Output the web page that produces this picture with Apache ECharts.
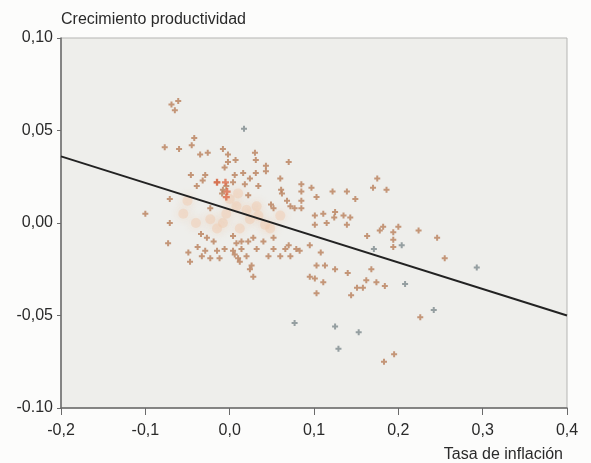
<!DOCTYPE html>
<html>
<head>
<meta charset="utf-8">
<script src="https://cdn.jsdelivr.net/npm/echarts@6/dist/echarts.min.js"></script>
<style>
  html, body { margin: 0; padding: 0; background: #fcfcfb; }
  #chart { width: 591px; height: 463px; }
</style>
</head>
<body>
<div id="chart"></div>
<script>
// x = tasa de inflación, y = crecimiento productividad
var orangePoints = [
  [-0.069, 0.064], [-0.061, 0.066], [-0.065, 0.061], [-0.042, 0.046], [-0.077, 0.041],
  [-0.060, 0.040], [-0.045, 0.042], [-0.035, 0.037], [-0.026, 0.038], [-0.008, 0.040],
  [-0.002, 0.037], [-0.002, 0.033], [0.007, 0.034], [-0.006, 0.030], [0.006, 0.026],
  [-0.046, 0.026], [-0.029, 0.026], [-0.032, 0.023], [-0.039, 0.020], [-0.015, 0.022],
  [-0.004, 0.020], [-0.100, 0.005], [-0.071, 0.013], [-0.071, 0.000],
  [-0.073, -0.011], [-0.049, -0.016], [-0.047, -0.021], [-0.034, -0.006], [-0.027, -0.008],
  [-0.038, -0.013], [-0.029, -0.015], [-0.033, -0.018], [-0.023, -0.019], [-0.015, -0.015],
  [-0.012, -0.019], [-0.006, -0.014], [0.004, -0.015], [0.006, -0.017], [0.010, -0.019],
  [0.008, -0.011], [-0.019, -0.010], [0.030, 0.038], [0.031, 0.034], [0.043, 0.031],
  [0.043, 0.028], [0.031, 0.027], [0.070, 0.033], [0.016, 0.027], [0.024, 0.024],
  [0.018, 0.021], [0.034, 0.020], [0.060, 0.024], [0.061, 0.018], [0.062, 0.016],
  [0.085, 0.021], [0.085, 0.017], [0.097, 0.019], [0.103, 0.014], [0.122, 0.017],
  [0.139, 0.017], [0.068, 0.012], [0.072, 0.009], [0.077, 0.008], [0.085, 0.012],
  [0.085, 0.008], [0.049, 0.010], [0.052, 0.008], [0.101, 0.004], [0.111, 0.005],
  [0.125, 0.006], [0.124, 0.003], [0.135, 0.004], [0.143, 0.003], [0.101, -0.001],
  [0.115, 0.000], [0.139, -0.001], [0.014, -0.010], [0.022, -0.010], [0.032, -0.014],
  [0.040, -0.010], [0.012, -0.021], [0.020, -0.018], [0.026, -0.023], [0.024, -0.025],
  [0.028, -0.029], [0.046, -0.018], [0.052, -0.014], [0.060, -0.018], [0.066, -0.014],
  [0.072, -0.018], [0.070, -0.012], [0.079, -0.014], [0.083, -0.015], [0.095, -0.012],
  [0.108, -0.016], [0.103, -0.023], [0.113, -0.023], [0.125, -0.025], [0.140, -0.027],
  [0.095, -0.029], [0.101, -0.030], [0.111, -0.032], [0.103, -0.038], [0.144, -0.039],
  [0.052, -0.008], [0.175, 0.024], [0.170, 0.019], [0.186, 0.018], [0.149, 0.013],
  [0.182, -0.002], [0.200, -0.002], [0.178, -0.004], [0.194, -0.005], [0.224, -0.004],
  [0.194, -0.009], [0.194, -0.013], [0.246, -0.008], [0.163, -0.007], [0.255, -0.019],
  [0.168, -0.025], [0.162, -0.031], [0.174, -0.032], [0.184, -0.034], [0.151, -0.035],
  [0.158, -0.035], [0.226, -0.051], [0.195, -0.071], [0.183, -0.075],
  [-0.008, 0.018], [-0.009, 0.016], [0.004, 0.022], [0.022, 0.015], [-0.023, 0.008],
  [0.004, -0.007], [0.028, -0.008], [0.014, -0.014]
];
var redPoints = [
  [-0.015, 0.022], [-0.005, 0.022], [-0.003, 0.017], [-0.004, 0.014]
];
var greyPoints = [
  [0.017, 0.051], [0.077, -0.054], [0.125, -0.056], [0.204, -0.012], [0.208, -0.033],
  [0.293, -0.024], [0.242, -0.047], [0.153, -0.059], [0.129, -0.068], [0.171, -0.014]
];
var palePoints = [
  [0.042, -0.001], [-0.008, 0.000], [0.024, 0.002], [-0.023, 0.002], [0.008, 0.009],
  [0.032, 0.009], [0.000, 0.013], [0.020, 0.007], [0.048, -0.003], [-0.015, -0.003],
  [0.012, -0.003], [-0.004, 0.005], [0.034, 0.004], [-0.050, 0.012], [-0.055, 0.005],
  [-0.040, 0.000], [0.060, 0.004], [0.010, 0.016]
];
var fitLine = [[-0.2, 0.036], [0.4, -0.050]];

var xTickLabels = { '-0.2': '-0,2', '-0.1': '-0,1', '0': '0,0', '0.1': '0,1', '0.2': '0,2', '0.3': '0,3', '0.4': '0,4' };
var yTickLabels = { '0.1': '0,10', '0.05': '0,05', '0': '0,00', '-0.05': '-0,05', '-0.1': '-0.10' };

var plus = 'path://M2,0H4V2H6V4H4V6H2V4H0V2H2Z';
var font = 'Liberation Sans, Arial, sans-serif';

var chart = echarts.init(document.getElementById('chart'));
chart.setOption({
  backgroundColor: '#fcfcfb',
  animation: false,
  grid: {
    left: 61, right: 24, top: 38, bottom: 53,
    show: true, backgroundColor: '#eeeeeb', borderColor: '#b5b5b3', borderWidth: 1
  },
  xAxis: {
    type: 'value', min: -0.2, max: 0.4, interval: 0.1,
    name: 'Tasa de inflación', nameLocation: 'end', nameGap: -4,
    nameTextStyle: { fontFamily: font, fontSize: 16, color: '#2a2a2a', align: 'right', verticalAlign: 'top', padding: [39, 0, 0, 0] },
    splitLine: { show: false },
    axisLine: { onZero: false, lineStyle: { color: '#6a6a6a', width: 1.5 } },
    axisTick: { inside: false, length: 7, lineStyle: { color: '#6a6a6a' } },
    axisLabel: {
      fontFamily: font, fontSize: 16, color: '#2a2a2a', margin: 15,
      formatter: function (v) { return xTickLabels[String(Math.round(v * 10) / 10)]; }
    }
  },
  yAxis: {
    type: 'value', min: -0.1, max: 0.1, interval: 0.05,
    name: 'Crecimiento productividad', nameLocation: 'end', nameGap: 10,
    nameTextStyle: { fontFamily: font, fontSize: 16, color: '#2a2a2a', align: 'left', verticalAlign: 'bottom' },
    splitLine: { show: false },
    axisLine: { show: true, onZero: false, lineStyle: { color: '#6a6a6a', width: 1.5 } },
    axisTick: { show: true, length: 4, lineStyle: { color: '#6a6a6a' } },
    axisLabel: {
      fontFamily: font, fontSize: 16, color: '#2a2a2a', margin: 8,
      formatter: function (v) { return yTickLabels[String(Math.round(v * 100) / 100)]; }
    }
  },
  series: [
    {
      type: 'scatter', data: palePoints, symbol: 'circle', symbolSize: 10,
      itemStyle: { color: '#efc9b0', opacity: 0.45, shadowBlur: 8, shadowColor: '#f0c8a8' }, z: 1
    },
    {
      type: 'scatter', data: greyPoints, symbol: plus, symbolSize: 6,
      itemStyle: { color: '#7e8b8e' }, z: 2
    },
    {
      type: 'scatter', data: orangePoints, symbol: plus, symbolSize: 6,
      itemStyle: { color: '#b97f5b' }, z: 3
    },
    {
      type: 'scatter', data: redPoints, symbol: plus, symbolSize: 7,
      itemStyle: { color: '#dc6a48' }, z: 3
    },
    {
      type: 'line', data: fitLine, symbol: 'none',
      lineStyle: { color: '#222222', width: 2 }, z: 4
    }
  ]
});
</script>
</body>
</html>
